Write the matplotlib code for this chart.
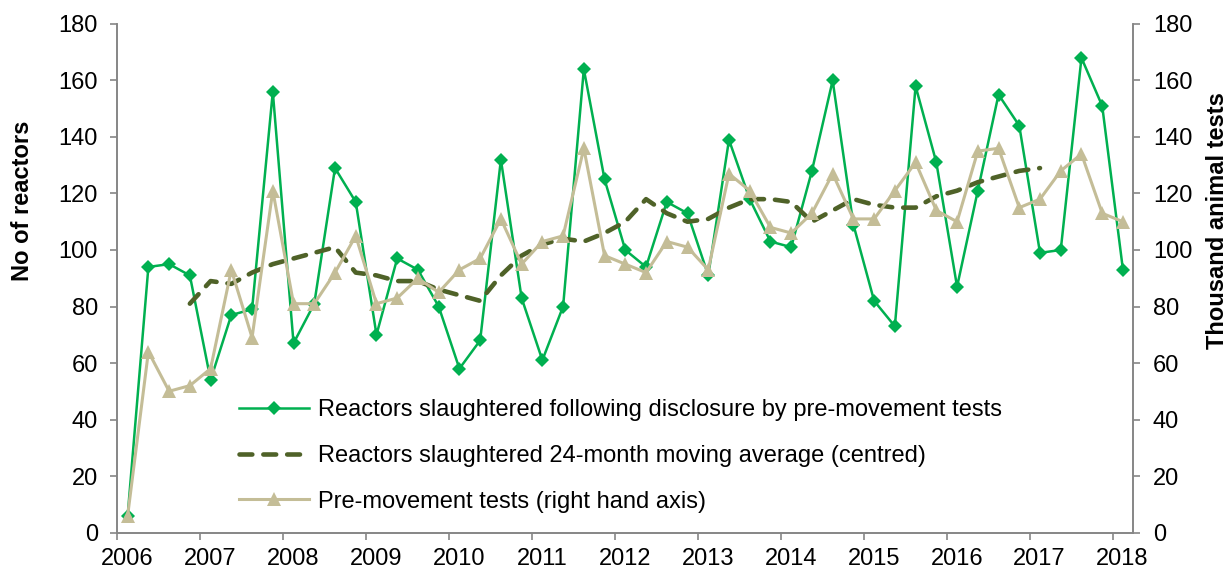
import matplotlib
matplotlib.use("Agg")
import matplotlib.pyplot as plt
import matplotlib.transforms as mtrans

plt.rcParams['font.family'] = ['Liberation Sans', 'DejaVu Sans']

# quarterly figures, first quarter of 2006 to first quarter of 2018
years = list(range(2006, 2019))
reactors = [6, 94, 95, 91, 54, 77, 79, 156, 67, 81, 129, 117, 70, 97, 93, 80,
            58, 68, 132, 83, 61, 80, 164, 125, 100, 94, 117, 113, 91, 139, 118, 103,
            101, 128, 160, 109, 82, 73, 158, 131, 87, 121, 155, 144, 99, 100, 168, 151,
            93]
# 24-month centred moving average, only defined from 2006 Q4 to 2017 Q1
moving_avg = [None, None, None, 81, 89, 88, 92, 95, 97, 99, 101, 92, 91, 89, 89, 86,
              84, 82, 91, 98, 102, 104, 103, 106, 110, 118, 113, 110, 111, 115, 118, 118,
              117, 110, 114, 118, 116, 115, 115, 119, 121, 124, 126, 128, 129, None, None, None,
              None]
pm_tests = [6, 64, 50, 52, 58, 93, 69, 121, 81, 81, 92, 105, 81, 83, 90, 85,
            93, 97, 111, 95, 103, 105, 136, 98, 95, 92, 103, 101, 93, 127, 121, 108,
            106, 113, 127, 111, 111, 121, 131, 114, 110, 135, 136, 115, 118, 128, 134, 113,
            110]

labels = ['Reactors slaughtered following disclosure by pre-movement tests',
          'Reactors slaughtered 24-month moving average (centred)',
          'Pre-movement tests (right hand axis)']

GREEN = '#00B050'
OLIVE = '#4F6228'
TAN = '#C4BD97'
GREY = '#868686'
FS = 17


def quarter_x(n):
    # each point sits in the middle of its quarter
    return [years[0] + (i + 0.5) / 4.0 for i in range(n)]


def style_axis(ax):
    for side in ['top', 'left', 'right', 'bottom']:
        ax.spines[side].set_color(GREY)
        ax.spines[side].set_linewidth(1.2)
    ax.spines['top'].set_visible(False)
    ax.tick_params(axis='both', which='major', labelsize=FS, color=GREY,
                   length=5, width=1.2, direction='out')
    ax.tick_params(axis='y', pad=9)
    ax.tick_params(axis='x', pad=6)


fig = plt.figure(figsize=(12.32, 5.71), dpi=100, facecolor='w')
ax = fig.add_axes([0.0952, 0.0674, 0.8247, 0.8906])
X = quarter_x(len(reactors))

l1, = ax.plot(X, reactors, '-', color=GREEN, linewidth=1.8, marker='D',
              markersize=7, markeredgewidth=0, zorder=3)
xm = [x for x, v in zip(X, moving_avg) if v is not None]
ym = [v for v in moving_avg if v is not None]
l2, = ax.plot(xm, ym, color=OLIVE, linewidth=3.3, dashes=(2.8, 2.4),
              dash_capstyle='round', zorder=4)

ax.set_xlim(2006, 2018.25)
ax.set_ylim(0, 180)
ax.set_yticks(range(0, 181, 20))
ax.set_xticks(years)
ax.set_xticklabels([str(y) for y in years])
style_axis(ax)
ax.set_ylabel('No of reactors', fontsize=FS, fontweight='bold')
ax.yaxis.set_label_coords(-0.082, 0.652)

# excel draws the year labels a little right of the tick marks
shift = mtrans.ScaledTranslation(0.1, 0, fig.dpi_scale_trans)
for lab in ax.get_xticklabels():
    lab.set_transform(lab.get_transform() + shift)

ax2 = ax.twinx()
l3, = ax2.plot(X, pm_tests, '-', color=TAN, linewidth=2.2, marker='^',
               markersize=10, markeredgewidth=0, zorder=3)
ax2.set_ylim(0, 180)
ax2.set_yticks(range(0, 181, 20))
style_axis(ax2)
ax2.set_ylabel('Thousand animal tests', fontsize=FS, fontweight='bold')
ax2.yaxis.set_label_coords(1.0715, 0.614)

ax2.legend([l1, l2, l3], labels, loc='upper left', bbox_to_anchor=(0.12, 0.262),
           frameon=False, fontsize=FS, handlelength=2.95, handletextpad=0.4,
           labelspacing=1.0, borderaxespad=0, borderpad=0)

plt.savefig('out.png', dpi=100, facecolor='w')
plt.close()
